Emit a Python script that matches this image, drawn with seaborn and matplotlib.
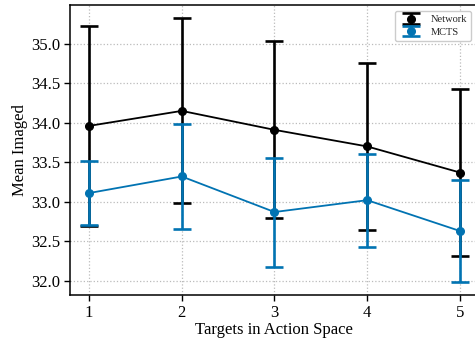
import matplotlib
matplotlib.use("Agg")
import matplotlib.pyplot as plt
import seaborn as sns
import numpy as np
import pandas as pd

targets = [1, 2, 3, 4, 5]
network_mean = [33.96, 34.15, 33.91, 33.70, 33.37]
network_err = [1.27, 1.17, 1.12, 1.06, 1.06]
mcts_mean = [33.11, 33.32, 32.87, 33.02, 32.63]
mcts_err = [0.40, 0.67, 0.69, 0.59, 0.64]
series_names = ["Network", "MCTS"]

sns.set_theme(style="whitegrid")
plt.rcParams['font.family'] = ['Liberation Serif', 'DejaVu Serif']
plt.rcParams['mathtext.fontset'] = 'stix'

blue = sns.color_palette("colorblind")[0]
colors = ["black", blue]

fig = plt.figure(figsize=(4.75, 3.41), dpi=100)
ax = fig.add_axes([70/475, 46/341, 408.5/475, 290/341])

df = pd.DataFrame({
    "x": targets * 2,
    "y": network_mean + mcts_mean,
    "err": network_err + mcts_err,
    "series": [series_names[0]] * 5 + [series_names[1]] * 5,
})

for name, c in zip(series_names, colors):
    sub = df[df.series == name]
    sns.lineplot(data=sub, x="x", y="y", color=c, lw=1.3, ax=ax, legend=False)
    ax.errorbar(sub.x, sub.y, yerr=sub.err, fmt='o', color=c, ms=5.5,
                elinewidth=1.9, capsize=6.2, capthick=1.9, label=name)

ax.set_xlim(0.795, 5.2)
ax.set_ylim(31.82, 35.49)
ax.set_xticks(targets)
ax.set_yticks([32.0, 32.5, 33.0, 33.5, 34.0, 34.5, 35.0])
ax.set_yticklabels(["32.0", "32.5", "33.0", "33.5", "34.0", "34.5", "35.0"])
ax.tick_params(axis='both', labelsize=12, colors='black', length=4, width=1,
               direction='out', left=True, bottom=True, pad=3)
ax.set_xlabel("Targets in Action Space", fontsize=12, labelpad=1, color='black')
ax.set_ylabel("Mean Imaged", fontsize=12, labelpad=2, color='black')
ax.grid(True, linestyle=':', color='#bbbbbb', linewidth=0.9)
for s in ax.spines.values():
    s.set_color('black')
    s.set_linewidth(1.1)
ax.set_facecolor('white')
leg = ax.legend(loc='upper right', bbox_to_anchor=(0.995, 0.998), fontsize=7.5,
                frameon=True, fancybox=True, framealpha=1, edgecolor='#cccccc',
                handlelength=2.2, borderpad=0.4, labelspacing=0.3)
fig.savefig("out.png", dpi=100)
